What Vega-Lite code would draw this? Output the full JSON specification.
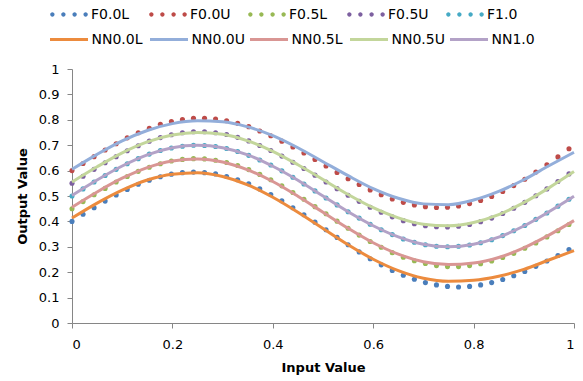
{
  "$schema": "https://vega.github.io/schema/vega-lite/v6.json",
  "width": 502,
  "height": 254,
  "autosize": "none",
  "padding": {"left": 72, "top": 69, "right": 9, "bottom": 58},
  "background": "white",
  "config": {
    "view": {"stroke": null},
    "font": "DejaVu Sans",
    "axis": {
      "grid": false,
      "domainColor": "#868686",
      "tickColor": "#868686",
      "tickSize": 5,
      "labelOverlap": false,
      "labelFont": "DejaVu Sans",
      "labelFontSize": 13,
      "labelColor": "#000000",
      "titleFont": "DejaVu Sans",
      "titleFontSize": 13,
      "titleFontWeight": "bold",
      "titleColor": "#000000"
    },
    "legend": {"labelFont": "DejaVu Sans", "labelFontSize": 14, "labelColor": "#000000", "padding": 0}
  },
  "datasets": {
    "dots": [
      {"x":0,"a":0.400,"b":0.600,"c":0.450,"d":0.550,"e":0.500},
      {"x":0.022,"a":0.428,"b":0.628,"c":0.478,"d":0.578,"e":0.528},
      {"x":0.044,"a":0.454,"b":0.655,"c":0.505,"d":0.605,"e":0.555},
      {"x":0.066,"a":0.480,"b":0.681,"c":0.530,"d":0.631,"e":0.581},
      {"x":0.088,"a":0.504,"b":0.706,"c":0.555,"d":0.655,"e":0.605},
      {"x":0.11,"a":0.526,"b":0.729,"c":0.577,"d":0.678,"e":0.627},
      {"x":0.132,"a":0.546,"b":0.749,"c":0.597,"d":0.698,"e":0.647},
      {"x":0.154,"a":0.562,"b":0.767,"c":0.613,"d":0.716,"e":0.665},
      {"x":0.176,"a":0.576,"b":0.782,"c":0.627,"d":0.730,"e":0.679},
      {"x":0.198,"a":0.586,"b":0.793,"c":0.638,"d":0.741,"e":0.689},
      {"x":0.22,"a":0.592,"b":0.801,"c":0.644,"d":0.749,"e":0.696},
      {"x":0.242,"a":0.594,"b":0.806,"c":0.647,"d":0.753,"e":0.700},
      {"x":0.264,"a":0.592,"b":0.806,"c":0.646,"d":0.753,"e":0.699},
      {"x":0.286,"a":0.587,"b":0.803,"c":0.641,"d":0.749,"e":0.695},
      {"x":0.308,"a":0.577,"b":0.796,"c":0.632,"d":0.742,"e":0.687},
      {"x":0.33,"a":0.564,"b":0.786,"c":0.620,"d":0.731,"e":0.675},
      {"x":0.352,"a":0.548,"b":0.773,"c":0.604,"d":0.717,"e":0.660},
      {"x":0.374,"a":0.528,"b":0.756,"c":0.585,"d":0.699,"e":0.642},
      {"x":0.396,"a":0.506,"b":0.737,"c":0.564,"d":0.679,"e":0.622},
      {"x":0.418,"a":0.481,"b":0.716,"c":0.540,"d":0.657,"e":0.599},
      {"x":0.44,"a":0.454,"b":0.693,"c":0.514,"d":0.633,"e":0.574},
      {"x":0.462,"a":0.426,"b":0.669,"c":0.487,"d":0.608,"e":0.547},
      {"x":0.484,"a":0.397,"b":0.644,"c":0.458,"d":0.582,"e":0.520},
      {"x":0.506,"a":0.367,"b":0.618,"c":0.430,"d":0.555,"e":0.492},
      {"x":0.528,"a":0.337,"b":0.593,"c":0.401,"d":0.529,"e":0.465},
      {"x":0.55,"a":0.308,"b":0.568,"c":0.373,"d":0.503,"e":0.438},
      {"x":0.572,"a":0.280,"b":0.545,"c":0.346,"d":0.479,"e":0.413},
      {"x":0.594,"a":0.253,"b":0.524,"c":0.321,"d":0.456,"e":0.389},
      {"x":0.616,"a":0.229,"b":0.505,"c":0.298,"d":0.436,"e":0.367},
      {"x":0.638,"a":0.207,"b":0.488,"c":0.277,"d":0.418,"e":0.348},
      {"x":0.66,"a":0.188,"b":0.475,"c":0.259,"d":0.403,"e":0.331},
      {"x":0.682,"a":0.172,"b":0.465,"c":0.245,"d":0.391,"e":0.318},
      {"x":0.704,"a":0.159,"b":0.458,"c":0.234,"d":0.383,"e":0.308},
      {"x":0.726,"a":0.150,"b":0.455,"c":0.226,"d":0.379,"e":0.302},
      {"x":0.748,"a":0.144,"b":0.456,"c":0.222,"d":0.378,"e":0.300},
      {"x":0.77,"a":0.142,"b":0.461,"c":0.222,"d":0.381,"e":0.302},
      {"x":0.792,"a":0.144,"b":0.470,"c":0.226,"d":0.388,"e":0.307},
      {"x":0.814,"a":0.150,"b":0.482,"c":0.233,"d":0.399,"e":0.316},
      {"x":0.836,"a":0.159,"b":0.498,"c":0.244,"d":0.413,"e":0.328},
      {"x":0.858,"a":0.171,"b":0.518,"c":0.258,"d":0.431,"e":0.344},
      {"x":0.88,"a":0.186,"b":0.541,"c":0.274,"d":0.452,"e":0.363},
      {"x":0.902,"a":0.203,"b":0.566,"c":0.294,"d":0.475,"e":0.384},
      {"x":0.924,"a":0.223,"b":0.594,"c":0.315,"d":0.501,"e":0.408},
      {"x":0.946,"a":0.244,"b":0.623,"c":0.339,"d":0.528,"e":0.433},
      {"x":0.968,"a":0.266,"b":0.654,"c":0.363,"d":0.557,"e":0.460},
      {"x":0.99,"a":0.289,"b":0.686,"c":0.388,"d":0.587,"e":0.487}
    ],
    "nn": [
      {"x":0,"f":0.413,"g":0.605,"h":0.456,"i":0.555,"j":0.502},
      {"x":0.05,"f":0.472,"g":0.664,"h":0.516,"i":0.615,"j":0.563},
      {"x":0.1,"f":0.523,"g":0.717,"h":0.570,"i":0.670,"j":0.618},
      {"x":0.15,"f":0.563,"g":0.758,"h":0.612,"i":0.713,"j":0.662},
      {"x":0.2,"f":0.586,"g":0.785,"h":0.638,"i":0.740,"j":0.690},
      {"x":0.25,"f":0.592,"g":0.796,"h":0.646,"i":0.750,"j":0.6995},
      {"x":0.3,"f":0.577,"g":0.792,"h":0.634,"i":0.743,"j":0.690},
      {"x":0.35,"f":0.544,"g":0.772,"h":0.603,"i":0.717,"j":0.662},
      {"x":0.4,"f":0.495,"g":0.738,"h":0.557,"i":0.676,"j":0.617},
      {"x":0.45,"f":0.436,"g":0.690,"h":0.499,"i":0.623,"j":0.562},
      {"x":0.5,"f":0.372,"g":0.635,"h":0.436,"i":0.565,"j":0.500},
      {"x":0.55,"f":0.308,"g":0.580,"h":0.373,"i":0.506,"j":0.438},
      {"x":0.6,"f":0.251,"g":0.529,"h":0.316,"i":0.454,"j":0.383},
      {"x":0.65,"f":0.206,"g":0.491,"h":0.271,"i":0.414,"j":0.339},
      {"x":0.7,"f":0.176,"g":0.469,"h":0.241,"i":0.389,"j":0.310},
      {"x":0.75,"f":0.164,"g":0.466,"h":0.230,"i":0.383,"j":0.300},
      {"x":0.8,"f":0.168,"g":0.484,"h":0.236,"i":0.396,"j":0.310},
      {"x":0.85,"f":0.184,"g":0.518,"h":0.258,"i":0.427,"j":0.338},
      {"x":0.9,"f":0.211,"g":0.564,"h":0.296,"i":0.474,"j":0.382},
      {"x":0.95,"f":0.248,"g":0.619,"h":0.346,"i":0.532,"j":0.438},
      {"x":1.0,"f":0.285,"g":0.672,"h":0.403,"i":0.596,"j":0.499}
    ],
    "names": [
      {"k":"a","s":"F0.0L"},{"k":"b","s":"F0.0U"},{"k":"c","s":"F0.5L"},{"k":"d","s":"F0.5U"},{"k":"e","s":"F1.0"},
      {"k":"f","s":"NN0.0L"},{"k":"g","s":"NN0.0U"},{"k":"h","s":"NN0.5L"},{"k":"i","s":"NN0.5U"},{"k":"j","s":"NN1.0"}
    ]
  },
  "encoding": {
    "x": {"field": "x", "type": "quantitative", "scale": {"domain": [0,1], "nice": false},
          "axis": {"values": [0,0.2,0.4,0.6,0.8,1], "format": "~g", "title": "Input Value", "labelPadding": 10, "titlePadding": 10}},
    "y": {"field": "y", "type": "quantitative", "scale": {"domain": [0,1], "nice": false},
          "axis": {"values": [0,0.1,0.2,0.3,0.4,0.5,0.6,0.7,0.8,0.9,1], "format": "~g", "labelOverlap": false, "title": "Output Value", "labelPadding": 8, "titlePadding": 9}}
  },
  "layer": [
    {
      "data": {"name": "dots"},
      "transform": [
        {"fold": ["a","b","c","d","e"], "as": ["k","y"]},
        {"lookup": "k", "from": {"data": {"name": "names"}, "key": "k", "fields": ["s"]}}
      ],
      "mark": {"type": "circle", "size": 26, "opacity": 1},
      "encoding": {
        "color": {"field": "s", "type": "nominal",
          "scale": {"domain": ["F0.0L","F0.0U","F0.5L","F0.5U","F1.0"], "range": ["#4A7EBB","#BE4B48","#98B954","#7D60A0","#46AAC5"]},
          "legend": {"orient": "none", "legendX": -22, "legendY": -62, "direction": "horizontal", "columns": 5, "title": null,
            "symbolType": "M-0.99,0A0.115,0.115,0,1,0,-0.76,0A0.115,0.115,0,1,0,-0.99,0ZM-0.41,0A0.115,0.115,0,1,0,-0.18,0A0.115,0.115,0,1,0,-0.41,0ZM0.18,0A0.115,0.115,0,1,0,0.41,0A0.115,0.115,0,1,0,0.18,0ZM0.76,0A0.115,0.115,0,1,0,0.99,0A0.115,0.115,0,1,0,0.76,0Z",
            "symbolSize": 1444, "symbolStrokeWidth": 0, "symbolOpacity": 1, "labelOffset": 3, "clipHeight": 15, "gridAlign": "all", "columnPadding": 17}}
      }
    },
    {
      "data": {"name": "nn"},
      "transform": [
        {"fold": ["f","g","h","i","j"], "as": ["k","y"]},
        {"lookup": "k", "from": {"data": {"name": "names"}, "key": "k", "fields": ["s"]}}
      ],
      "mark": {"type": "line", "strokeWidth": 3, "interpolate": "monotone"},
      "encoding": {
        "color": {"field": "s", "type": "nominal",
          "scale": {"domain": ["NN0.0L","NN0.0U","NN0.5L","NN0.5U","NN1.0"], "range": ["#EC8B3E","#93AEDA","#D99694","#C3D69B","#B3A2C7"]},
          "legend": {"orient": "none", "legendX": -23.5, "legendY": -37, "direction": "horizontal", "columns": 5, "title": null,
            "symbolType": "stroke", "symbolSize": 1444, "symbolStrokeWidth": 3, "labelOffset": 2, "clipHeight": 15, "gridAlign": "all", "columnPadding": 3}}
      }
    }
  ],
  "resolve": {"scale": {"color": "independent"}, "legend": {"color": "independent"}}
}
